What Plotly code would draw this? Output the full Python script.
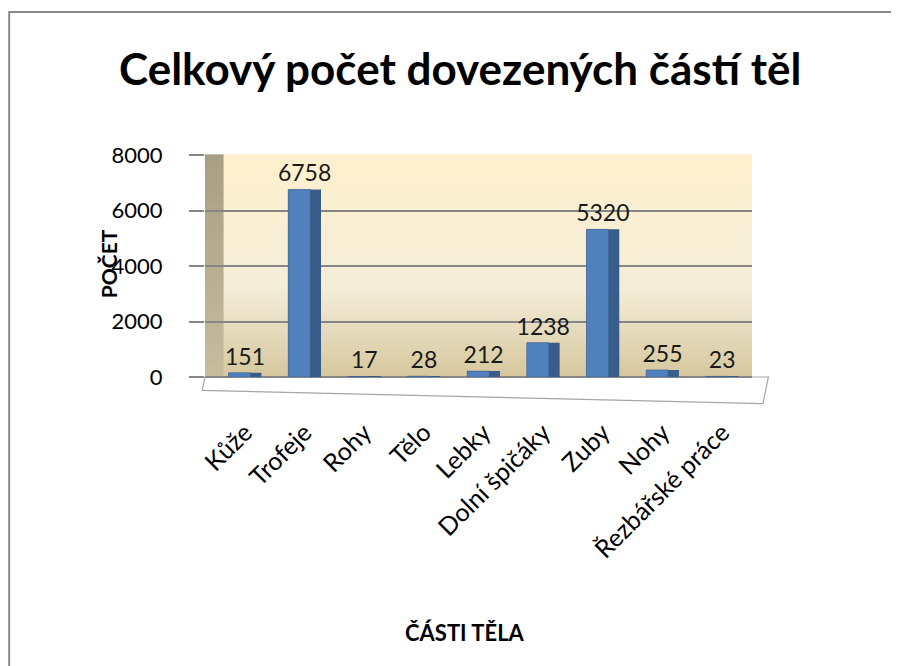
import plotly.graph_objects as go

# data
parts = ["Kůže", "Trofeje", "Rohy", "Tělo", "Lebky", "Dolní špičáky", "Zuby", "Nohy", "Řezbářské práce"]
counts = [151, 6758, 17, 28, 212, 1238, 5320, 255, 23]
y_ticks = [0, 2000, 4000, 6000, 8000]

FONT = "Lato"
BLUE = "#4F81BD"
BLUE_DARK = "#385D8A"

fig = go.Figure()
# darker right-hand side of each column (gives a little depth)
fig.add_trace(go.Bar(
    x=parts, y=counts, width=0.55,
    marker=dict(color=BLUE_DARK, line=dict(width=0)),
    text=[str(v) for v in counts],
    textposition="outside", constraintext="none",
    textfont=dict(family=FONT, size=23, color="#1a1a1a"),
    cliponaxis=False,
))
# front face
fig.add_trace(go.Bar(
    x=parts, y=counts, width=0.37, offset=-0.275,
    marker=dict(color=BLUE, line=dict(color=BLUE_DARK, width=0.5)),
    cliponaxis=False,
))

def mix(a, b, t):
    return tuple(round(a[k] + (b[k] - a[k]) * t) for k in range(3))

# back wall gradient, built from thin bands under the grid
c_bot = (214, 199, 158)
c_mid = (244, 237, 216)
c_top = (255, 240, 205)
w_bot = (198, 188, 158)
w_top = (168, 158, 132)
shapes = []
n = 60
for i in range(n):
    t = (i + 0.5) / n
    col = mix(c_bot, c_mid, t / 0.4) if t < 0.4 else mix(c_mid, c_top, (t - 0.4) / 0.6)
    shapes.append(dict(type="rect", xref="paper", yref="paper", layer="below",
                       x0=0.033, x1=1, y0=i / n, y1=(i + 1) / n + 0.003,
                       fillcolor="rgb(%d,%d,%d)" % col, line=dict(width=0)))
    shapes.append(dict(type="rect", xref="paper", yref="paper", layer="below",
                       x0=0, x1=0.034, y0=i / n, y1=(i + 1) / n + 0.003,
                       fillcolor="rgb(%d,%d,%d)" % mix(w_bot, w_top, t), line=dict(width=0)))
# floor strip
shapes.append(dict(type="path", xref="paper", yref="paper", layer="below",
                   path="M 0,0 L 1.03,0 L 1.02,-0.12 L -0.005,-0.06 Z",
                   fillcolor="white", line=dict(color="#a6a6a6", width=1.2)))
# chart border
shapes.append(dict(type="rect", xref="paper", yref="paper", layer="below",
                   x0=-0.358, x1=1.4, y0=-1.5, y1=1.644,
                   fillcolor="rgba(0,0,0,0)", line=dict(color="#8a8a8a", width=2)))

fig.update_layout(
    width=899, height=666,
    margin=dict(l=197, r=155, t=147, b=297),
    paper_bgcolor="white",
    plot_bgcolor="rgba(0,0,0,0)",
    showlegend=False,
    barmode="overlay",
    shapes=shapes,
    title=dict(text="<b>Celkový počet dovezených částí těl</b>",
               x=0.503, xanchor="center", y=0.907, yanchor="middle",
               font=dict(family=FONT, size=44, color="black")),
    annotations=[
        dict(text="<b>ČÁSTI TĚLA</b>", xref="paper", yref="paper",
             x=0.475, y=-1.149, xanchor="center", yanchor="middle", showarrow=False,
             font=dict(family=FONT, size=22, color="black")),
        dict(text="<b>POČET</b>", xref="paper", yref="paper",
             x=-0.177, y=0.509, xanchor="center", yanchor="middle",
             textangle=-90, showarrow=False,
             font=dict(family=FONT, size=21, color="black")),
    ],
)
fig.update_xaxes(
    range=[-0.67, 8.5],
    tickangle=-45, tickfont=dict(family=FONT, size=25, color="black"),
    showline=False, showgrid=False, ticks="",
    ticklabelstandoff=35,
)
fig.update_yaxes(
    range=[0, 8000], tickvals=y_ticks,
    tickfont=dict(family=FONT, size=22, color="black"),
    showgrid=True, gridcolor="#868686", gridwidth=1.5,
    zeroline=True, zerolinecolor="#868686", zerolinewidth=1.5,
    ticks="outside", ticklen=15, tickcolor="#868686", tickwidth=1.5,
    ticklabelstandoff=22,
)

fig.write_html("out.html")
